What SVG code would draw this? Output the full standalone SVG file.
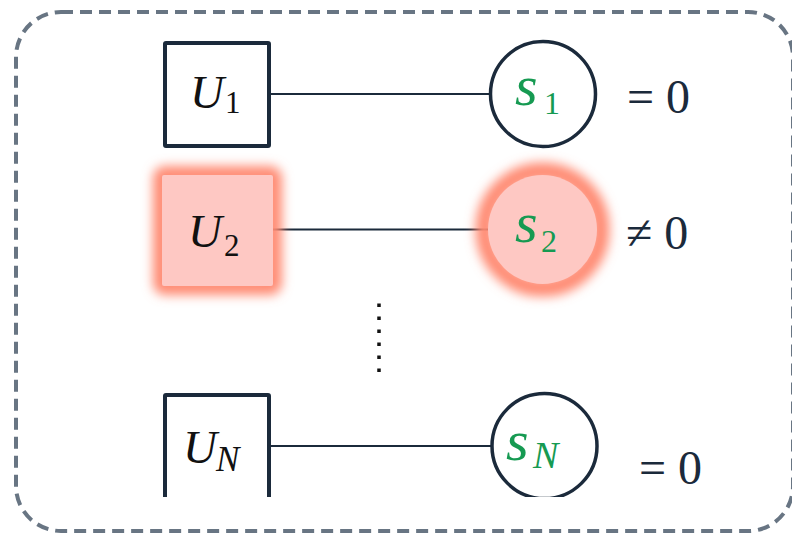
<svg xmlns="http://www.w3.org/2000/svg" width="792" height="536" viewBox="0 0 792 536">
<style>
.box{fill:#fff;stroke:#1b2a3b;stroke-width:4}
.circ{fill:#fff;stroke:#1b2a3b;stroke-width:3.5}
.hl{fill:#fec8c3}
.glow{fill:none;stroke:#ff8a72;stroke-width:18}
.edge{stroke:#1b2a3b;stroke-width:2;fill:none}
</style>
<defs>
<filter id="blur" x="-40%" y="-40%" width="180%" height="180%"><feGaussianBlur stdDeviation="5.5"/></filter>
<clipPath id="clipN"><rect x="0" y="0" width="792" height="497"/></clipPath>
</defs>
<rect x="16" y="12" width="777" height="519" rx="45" fill="none" stroke="#687583" stroke-width="4" stroke-dasharray="12 7"/>
<g id="connectors">
<line class="edge" x1="270" y1="94" x2="489" y2="94"/>
<line class="edge" x1="270" y1="229.5" x2="489" y2="229.5"/>
<line class="edge" x1="271" y1="446" x2="491" y2="446"/>
<line x1="379" y1="303.5" x2="379" y2="372" stroke="#111" stroke-width="3.5" stroke-dasharray="3.5 9.5"/>
</g>
<g id="U1">
<rect class="box" x="165" y="43" width="104" height="103" rx="1"/>
<text font-family="'Liberation Serif', 'Times New Roman', serif" x="190" y="108" fill="#111" font-style="italic" font-size="47">U</text>
<text font-family="'Liberation Serif', 'Times New Roman', serif" x="225" y="113" fill="#111" font-size="31">1</text>
</g>
<g id="U2">
<rect class="glow" x="162" y="175" width="111" height="111" rx="3" filter="url(#blur)"/>
<rect class="hl" x="162" y="175" width="111" height="111" rx="2"/>
<text font-family="'Liberation Serif', 'Times New Roman', serif" x="188" y="247" fill="#111" font-style="italic" font-size="47">U</text>
<text font-family="'Liberation Serif', 'Times New Roman', serif" x="224" y="256" fill="#111" font-size="31">2</text>
</g>
<g id="UN" clip-path="url(#clipN)">
<rect class="box" x="165" y="395" width="104" height="110" rx="1"/>
<text font-family="'Liberation Serif', 'Times New Roman', serif" font-style="italic" x="183" y="463" fill="#111" font-size="47">U</text>
<text font-family="'Liberation Serif', 'Times New Roman', serif" font-style="italic" x="216" y="471" fill="#111" font-size="35">N</text>
</g>
<g id="s1">
<circle class="circ" cx="543" cy="94" r="52.5"/>
<text font-family="'Liberation Serif', 'Times New Roman', serif" x="515" y="105" fill="#169a52" font-style="italic" font-size="58">s</text>
<text font-family="'Liberation Serif', 'Times New Roman', serif" x="544" y="114" fill="#169a52" font-size="32">1</text>
</g>
<g id="s2">
<circle class="glow" cx="542.5" cy="229.5" r="58" filter="url(#blur)"/>
<circle class="hl" cx="542.5" cy="229.5" r="54.5"/>
<text font-family="'Liberation Serif', 'Times New Roman', serif" x="515" y="242" fill="#169a52" font-style="italic" font-size="58">s</text>
<text font-family="'Liberation Serif', 'Times New Roman', serif" x="541" y="252" fill="#169a52" font-size="32">2</text>
</g>
<g id="sN" clip-path="url(#clipN)">
<circle class="circ" cx="544.5" cy="446" r="52.5"/>
<text font-family="'Liberation Serif', 'Times New Roman', serif" font-style="italic" x="506" y="460" fill="#169a52" font-size="58">s</text>
<text font-family="'Liberation Serif', 'Times New Roman', serif" font-style="italic" x="533" y="468" fill="#169a52" font-size="38">N</text>
</g>
<g id="labels" font-family="'Liberation Serif', 'Times New Roman', serif" font-size="48" fill="#1b2a3b">
<text x="627" y="113">= 0</text>
<text x="626" y="249">≠ 0</text>
<text x="639" y="484">= 0</text>
</g>
</svg>
